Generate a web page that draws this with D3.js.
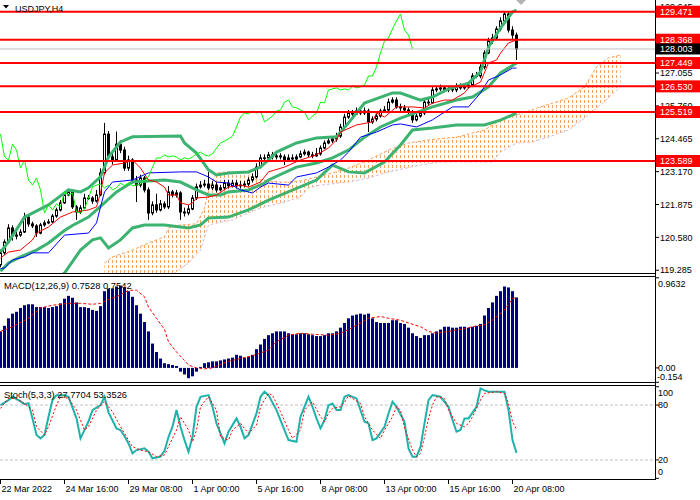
<!DOCTYPE html>
<html lang="en">
<head>
<meta charset="UTF-8">
<title>USDJPY,H4</title>
<script src="https://d3js.org/d3.v7.min.js"></script>
<style>
  body { margin: 0; background: #fff; }
  svg { display: block; }
  text { font-family: "Liberation Sans", Arial, sans-serif; font-size: 9px; fill: #000; }
</style>
</head>
<body>
<div id="chart"></div>
<script>
// ---- price bars (H4, 22 Mar 2022 00:00 .. 20 Apr 2022 12:00) ----
const firstOpen = 119.50;
const closes = [
  119.97,120.40,120.95,120.63,120.67,120.79,121.38,121.11,121.03,120.75,
  121.07,121.15,121.19,121.42,121.66,121.94,122.25,122.37,121.78,121.58,
  121.74,122.13,122.13,122.01,122.25,123.12,124.65,123.75,123.63,124.25,
  124.02,123.31,123.63,122.84,122.64,122.92,122.45,121.54,121.86,121.66,
  121.90,121.78,122.37,122.25,122.33,121.58,121.54,121.70,122.13,122.57,
  122.64,122.68,122.53,122.64,122.45,122.53,122.72,122.61,122.72,122.61,
  122.64,122.68,122.84,122.96,123.35,123.71,123.71,123.83,123.75,123.79,
  123.75,123.63,123.71,123.67,123.75,123.87,123.94,123.83,123.79,123.87,
  124.10,124.30,124.38,124.46,124.57,124.93,125.32,125.48,125.44,125.56,
  125.48,125.56,125.13,125.24,125.36,125.56,125.60,125.91,125.99,125.72,
  125.68,125.60,125.52,125.21,125.36,125.48,125.91,125.88,126.39,126.43,
  126.47,126.39,126.43,126.39,126.54,126.47,126.51,126.58,126.94,126.94,
  127.29,127.85,128.32,128.44,128.79,129.11,129.38,128.75,128.55,128.003
];
const highs = [
  120.10,120.50,121.10,121.05,120.85,120.90,121.55,121.45,121.20,121.10,
  121.15,121.25,121.30,121.50,121.75,122.05,122.40,122.50,122.45,121.85,
  121.85,122.30,122.25,122.20,122.45,123.30,125.09,124.77,123.95,124.75,
  124.40,124.15,123.80,123.70,123.00,123.05,123.00,122.55,122.00,122.30,
  122.05,122.00,122.60,122.45,122.45,122.40,121.75,121.85,122.25,122.70,
  122.80,122.85,123.16,122.80,122.75,122.65,122.85,122.85,122.85,122.85,
  122.80,122.80,122.95,123.10,123.50,123.85,123.85,123.95,123.95,123.90,
  123.90,123.85,123.85,123.85,123.85,124.00,124.05,124.00,123.95,124.10,
  124.20,124.40,124.50,124.55,124.70,125.05,125.45,125.60,125.60,125.70,
  125.65,125.70,125.65,125.35,125.45,125.65,125.75,126.05,126.10,126.10,
  125.85,125.80,125.70,125.60,125.45,125.60,126.00,126.05,126.50,126.55,
  126.60,126.55,126.55,126.50,126.65,126.65,126.60,126.70,127.05,127.10,
  127.40,127.95,128.45,128.60,128.90,129.25,129.47,129.45,128.90,128.65
];
const lows = [
  119.40,119.90,120.35,120.45,120.50,120.60,120.75,121.00,120.95,120.60,
  120.70,121.00,121.10,121.15,121.35,121.60,121.90,122.20,121.70,121.27,
  121.50,121.70,122.05,121.90,121.95,122.20,123.05,123.60,123.45,123.55,
  123.90,123.20,123.20,122.70,121.97,122.55,122.35,121.27,121.45,121.55,
  121.60,121.70,121.70,122.15,122.15,121.27,121.40,121.45,121.65,122.05,
  122.50,122.55,122.45,122.45,122.35,122.40,122.45,122.50,122.55,122.50,
  122.50,122.55,122.60,122.75,122.90,123.30,123.60,123.65,123.65,123.65,
  123.65,123.43,123.55,123.55,123.60,123.70,123.80,123.75,123.70,123.75,
  123.80,124.05,124.25,124.30,124.35,124.50,124.85,125.25,125.35,125.40,
  125.40,125.40,124.73,125.05,125.15,125.30,125.50,125.55,125.85,125.65,
  125.55,125.50,125.40,125.09,125.15,125.30,125.40,125.80,125.85,126.30,
  126.35,126.30,126.30,126.30,126.30,126.40,126.40,126.45,126.50,126.85,
  126.85,127.20,127.80,128.20,128.35,128.70,129.00,128.65,128.40,127.57
];

// ---- indicators: [bar index, value] ----
const bbUpper = [[0,120.00],[2,120.40],[6,121.38],[12,121.86],[17,122.45],[20,122.37],[22,122.53],[25,122.96],[27,123.75],[30,124.34],[33,124.54],[45,124.57],[46,124.30],[49,123.90],[52,123.24],[54,123.04],[57,123.12],[62,123.16],[65,123.35],[67,123.63],[69,123.94],[74,124.30],[79,124.50],[84,124.54],[87,125.09],[91,125.87],[98,126.27],[100,126.27],[105,125.99],[108,126.11],[112,126.43],[117,126.66],[120,127.10],[122,128.08],[125,128.83],[128,129.46],[129,129.54]];
const bbMiddle = [[0,119.25],[2,119.57],[5,119.81],[9,120.08],[12,120.36],[16,120.85],[18,121.05],[22,121.38],[25,121.80],[29,122.37],[33,122.76],[41,122.84],[45,122.76],[49,122.45],[52,122.25],[55,122.25],[57,122.37],[62,122.45],[66,122.72],[67,122.84],[74,123.35],[79,123.51],[83,123.71],[87,124.02],[91,124.53],[95,124.93],[100,125.28],[108,125.72],[114,125.99],[118,126.11],[122,126.51],[125,127.06],[129,127.45]];
const bbLower = [[0,117.90],[8,118.40],[16,119.17],[20,120.08],[23,120.48],[25,120.56],[27,120.16],[30,120.48],[33,120.95],[36,121.07],[41,121.07],[45,120.99],[47,120.95],[50,121.07],[52,121.34],[57,121.38],[62,121.66],[67,122.05],[79,122.84],[83,123.43],[87,123.16],[91,123.12],[96,123.55],[100,124.22],[103,124.81],[108,124.89],[114,125.01],[121,125.01],[125,125.20],[129,125.48]];
const tenkan = [[0,119.77],[2,120.00],[5,120.08],[8,120.48],[9,120.75],[12,120.99],[15,121.38],[18,121.58],[22,121.66],[24,121.78],[25,122.33],[26,123.12],[28,123.43],[31,123.51],[33,123.63],[35,123.31],[37,122.84],[39,122.76],[41,122.56],[42,122.25],[44,122.25],[45,121.94],[47,121.86],[48,121.94],[49,122.13],[52,122.17],[54,122.25],[57,122.56],[60,122.64],[62,122.56],[65,122.76],[67,123.16],[71,123.35],[75,123.63],[79,123.83],[82,124.10],[84,124.42],[85,124.73],[89,125.01],[93,125.13],[94,125.48],[96,125.32],[99,125.72],[103,125.72],[106,125.68],[108,125.87],[111,125.99],[113,125.99],[116,126.27],[117,126.47],[120,126.70],[122,127.45],[124,127.57],[125,127.84],[127,128.24],[129,128.36]];
const kijun = [[0,119.35],[1,119.37],[3,119.69],[6,119.81],[8,119.97],[12,119.97],[16,120.67],[22,120.75],[24,121.15],[25,121.78],[26,122.37],[28,122.76],[33,122.84],[37,123.12],[45,123.16],[49,123.16],[52,122.96],[54,122.76],[57,122.72],[60,122.45],[63,122.33],[65,122.56],[67,122.72],[72,122.64],[74,122.96],[79,123.12],[82,123.35],[85,123.63],[87,123.94],[90,124.53],[94,124.73],[98,125.01],[100,125.05],[104,124.93],[108,125.21],[113,125.72],[117,125.72],[120,126.27],[122,126.78],[125,126.98],[128,127.25],[129,127.25]];
const spanA = [[26,119.57],[28,119.81],[33,120.08],[37,120.36],[41,120.60],[42,120.95],[45,121.07],[49,121.11],[51,121.74],[52,122.45],[54,123.12],[57,123.16],[62,123.12],[63,122.90],[67,122.80],[71,122.75],[75,122.80],[79,122.96],[83,123.12],[87,123.31],[92,123.63],[97,124.02],[102,124.30],[107,124.42],[114,124.53],[121,124.81],[125,125.21],[129,125.40],[135,125.72],[142,126.07],[146,126.51],[149,127.29],[152,127.65],[155,127.77]];
const spanB = [[26,118.90],[42,119.00],[47,119.57],[50,120.08],[52,121.07],[58,121.27],[65,121.74],[71,121.97],[75,122.17],[77,122.53],[80,122.64],[87,122.76],[92,122.92],[97,123.16],[105,123.43],[110,123.55],[123,123.55],[125,123.94],[129,124.30],[133,124.34],[137,124.53],[142,124.81],[146,125.28],[150,125.80],[155,126.51]];
const chikouShift = 26;

// ---- MACD(12,26,9) ----
const macdHist = [
  0.39,0.45,0.53,0.58,0.60,0.64,0.67,0.68,0.68,0.65,
  0.65,0.65,0.64,0.65,0.66,0.69,0.74,0.77,0.75,0.70,
  0.65,0.65,0.64,0.62,0.61,0.66,0.82,0.85,0.85,0.87,
  0.88,0.86,0.82,0.76,0.67,0.58,0.49,0.39,0.26,0.17,
  0.10,0.05,0.04,0.03,0.02,-0.04,-0.07,-0.11,-0.09,-0.04,
  0.01,0.05,0.06,0.07,0.07,0.08,0.09,0.10,0.11,0.14,
  0.13,0.11,0.12,0.14,0.20,0.25,0.31,0.35,0.37,0.39,
  0.39,0.39,0.37,0.36,0.36,0.37,0.37,0.36,0.35,0.34,
  0.34,0.35,0.37,0.37,0.39,0.43,0.48,0.53,0.56,0.57,
  0.58,0.57,0.58,0.53,0.49,0.48,0.48,0.48,0.51,0.51,
  0.48,0.47,0.43,0.37,0.34,0.32,0.35,0.35,0.37,0.39,
  0.41,0.44,0.44,0.43,0.43,0.44,0.44,0.43,0.44,0.45,
  0.47,0.56,0.64,0.70,0.77,0.82,0.87,0.86,0.82,0.7528
];
const macdSignal = [[0,0.39],[3,0.44],[7,0.53],[10,0.64],[13,0.67],[17,0.69],[20,0.69],[23,0.68],[25,0.69],[27,0.73],[30,0.78],[32,0.83],[34,0.83],[36,0.76],[37,0.65],[39,0.53],[41,0.41],[42,0.28],[44,0.17],[46,0.08],[47,0.03],[49,0.00],[51,-0.01],[53,0.00],[57,0.07],[60,0.10],[63,0.13],[67,0.19],[69,0.28],[72,0.35],[75,0.37],[78,0.36],[82,0.35],[85,0.37],[87,0.41],[90,0.48],[92,0.53],[95,0.55],[97,0.53],[100,0.51],[102,0.48],[105,0.44],[107,0.39],[109,0.37],[112,0.39],[116,0.42],[118,0.44],[121,0.46],[123,0.51],[126,0.62],[128,0.74],[129,0.7542]];

// ---- Stochastic(5,3,3) ----
const stochK = [[0,79.9],[2,85.4],[3,89.0],[5,84],[6,81],[7,82],[8,65.4],[9,47.2],[10,43.6],[11,47.2],[12,67.2],[13,85.4],[14,90.8],[16,90.8],[17,89.0],[19,65.4],[20,43.6],[22,62],[23,74.5],[25,79.9],[26,89.0],[27,72],[29,54.5],[30,52.7],[31,46],[32,38],[33,27.2],[34,30.8],[36,32.7],[37,29.0],[38,21.8],[40,23.6],[41,30],[42,45],[43,56.3],[44,74.5],[45,56.3],[46,41.7],[47,29.0],[48,45.4],[49,78.1],[50,89.0],[52,90.8],[53,78.1],[54,60],[55,49],[56,38.1],[57,50.8],[59,65.4],[60,56.3],[61,43.6],[62,47.2],[64,70.8],[65,89.0],[66,94.5],[67,90.8],[69,74.5],[71,52.7],[72,41.7],[74,39.9],[75,67.2],[77,89.0],[78,78.1],[79,65.4],[80,54.5],[81,63.6],[82,79.9],[83,81.7],[84,74.5],[85,74.5],[86,89.0],[87,90.8],[89,87.2],[91,61.7],[92,59.9],[93,41.7],[94,43.6],[96,56.3],[97,70.8],[98,83.6],[99,78.1],[101,61.7],[102,32.7],[103,23.6],[104,23.6],[105,34.5],[106,59.9],[107,85.4],[108,90.8],[110,89.0],[112,78.1],[113,63.6],[114,50.8],[115,52.7],[116,65.4],[117,65.4],[119,78.1],[120,98.1],[121,96],[122,94.5],[126,94.5],[127,74.5],[128,41.7],[129,27.7704]];
const stochD = [[0,76.3],[2,87.2],[4,87.2],[6,81.7],[8,74.5],[9,56.3],[11,47.2],[12,56.3],[14,79.9],[15,89.0],[17,87.2],[19,74.5],[21,52.7],[22,56.3],[24,74.5],[26,83.6],[28,72.7],[30,56.3],[31,49.0],[33,34.5],[35,30.8],[37,29.0],[39,23.6],[41,25.4],[42,34.5],[44,52.7],[45,67.2],[47,52.7],[48,39.9],[49,52.7],[50,78.1],[52,89.0],[54,74.5],[55,45.4],[57,41.7],[58,52.7],[60,59.9],[62,49.0],[64,58.1],[65,78.1],[67,92.7],[68,90.8],[70,72.7],[72,52.7],[73,43.6],[75,52.7],[76,74.5],[78,83.6],[80,67.2],[81,61.7],[82,70.8],[83,76.3],[85,78.1],[86,83],[87,90],[90,81.7],[91,67.2],[93,52.7],[95,43.6],[96,52.7],[98,67.2],[99,78.1],[100,74.5],[101,55],[103,30.8],[104,23.6],[105,27.2],[106,45],[107,65],[108,80],[109,89.0],[111,87.2],[112,74.5],[114,59.9],[116,56.3],[117,59.9],[118,67.2],[120,85.4],[121,92.7],[124,94.5],[126,92.7],[127,81.7],[128,61.7],[129,53.3526]];

// ---- levels, axis labels ----
const levels = [129.471, 128.368, 127.449, 126.530, 125.519, 123.589];
const lastPrice = 128.003;
const priceTicks = [129.645, 127.055, 125.760, 124.465, 123.170, 121.875, 120.580, 119.285];
const dateTicks = [0, 16, 32, 48, 64, 80, 96, 112, 128];
const dateLabels = ["22 Mar 2022", "24 Mar 16:00", "29 Mar 08:00", "1 Apr 00:00", "5 Apr 16:00",
                    "8 Apr 08:00", "13 Apr 00:00", "15 Apr 16:00", "20 Apr 08:00"];

// ---- layout ----
const W = 700, H = 500, axisX = 655;
const x = d3.scaleLinear().domain([0, 129]).range([0.5, 516.5]);
const yP = d3.scaleLinear().domain([119.176, 129.933]).range([273, 0]);
const yM = d3.scaleLinear().domain([-0.154, 0.9632]).range([382.3, 277.8]);
const yS = d3.scaleLinear().domain([0, 100]).range([478.3, 386.7]);

const svg = d3.select("#chart").append("svg").attr("width", W).attr("height", H);
svg.append("rect").attr("width", W).attr("height", H).attr("fill", "#fff");
const defs = svg.append("defs");
defs.append("clipPath").attr("id", "clipMain").append("rect")
    .attr("x", 0).attr("y", 0).attr("width", axisX).attr("height", 273);
defs.append("clipPath").attr("id", "clipMacd").append("rect")
    .attr("x", 0).attr("y", 277).attr("width", axisX).attr("height", 105);
defs.append("clipPath").attr("id", "clipStoch").append("rect")
    .attr("x", 0).attr("y", 386).attr("width", axisX).attr("height", 93);
// kumo hatch: short vertical dashes, one column per bar
const pat = defs.append("pattern").attr("id", "kumo")
    .attr("patternUnits", "userSpaceOnUse").attr("width", 4).attr("height", 5);
pat.append("rect").attr("x", 0).attr("y", 0).attr("width", 1).attr("height", 3).attr("fill", "#F4A460");

const main = svg.append("g").attr("clip-path", "url(#clipMain)");
const lineP = d3.line().x(d => x(d[0])).y(d => yP(d[1]));

// Ichimoku cloud
const kumoPts = spanA.concat(spanB.slice().reverse());
main.append("path").attr("d", lineP(kumoPts) + "Z").attr("fill", "url(#kumo)");
main.append("path").attr("d", lineP(spanA)).attr("fill", "none")
    .attr("stroke", "#F4A460").attr("stroke-dasharray", "3,2");
main.append("path").attr("d", lineP(spanB)).attr("fill", "none")
    .attr("stroke", "#D8BFD8").attr("stroke-dasharray", "3,2");

// candles
const opens = closes.map((c, i) => i === 0 ? firstOpen : closes[i - 1]);
const candle = main.append("g").selectAll("g").data(closes).join("g");
candle.append("line")
    .attr("x1", (d, i) => x(i)).attr("x2", (d, i) => x(i))
    .attr("y1", (d, i) => yP(highs[i])).attr("y2", (d, i) => yP(lows[i]))
    .attr("stroke", "#000");
candle.append("rect")
    .attr("x", (d, i) => x(i) - 1)
    .attr("y", (d, i) => yP(Math.max(opens[i], d)))
    .attr("width", 2)
    .attr("height", (d, i) => Math.max(0.6, yP(Math.min(opens[i], d)) - yP(Math.max(opens[i], d))))
    .attr("fill", (d, i) => d >= opens[i] ? "#fff" : "#000")
    .attr("stroke", "#000");

// bands and ichimoku lines
[bbUpper, bbMiddle, bbLower].forEach(s => {
    main.append("path").attr("d", lineP(s)).attr("fill", "none")
        .attr("stroke", "#3CB371").attr("stroke-width", 3);
});
main.append("path").attr("d", lineP(tenkan)).attr("fill", "none").attr("stroke", "#FF0000");
main.append("path").attr("d", lineP(kijun)).attr("fill", "none").attr("stroke", "#0000FF");
const chikou = closes.slice(chikouShift).map((c, k) => [k, c]);
main.append("path").attr("d", lineP(chikou)).attr("fill", "none").attr("stroke", "#00FF00");

// horizontal levels
main.append("line").attr("x1", 0).attr("x2", axisX)
    .attr("y1", yP(lastPrice)).attr("y2", yP(lastPrice)).attr("stroke", "#C0C0C0");
main.selectAll(".lvl").data(levels).join("line").attr("class", "lvl")
    .attr("x1", 0).attr("x2", axisX)
    .attr("y1", d => yP(d)).attr("y2", d => yP(d))
    .attr("stroke", "#FF0000").attr("stroke-width", 2);

// MACD panel
const macd = svg.append("g").attr("clip-path", "url(#clipMacd)");
macd.selectAll("rect").data(macdHist).join("rect")
    .attr("x", (d, i) => x(i) - 1.5).attr("width", 3)
    .attr("y", d => Math.min(yM(d), yM(0)))
    .attr("height", d => Math.abs(yM(d) - yM(0)))
    .attr("fill", "#000080");
macd.append("path")
    .attr("d", d3.line().x(d => x(d[0])).y(d => yM(d[1]))(macdSignal))
    .attr("fill", "none").attr("stroke", "#FF0000").attr("stroke-dasharray", "3,2");

// Stochastic panel
const stoch = svg.append("g").attr("clip-path", "url(#clipStoch)");
[80, 20].forEach(v => {
    stoch.append("line").attr("x1", 0).attr("x2", axisX).attr("y1", yS(v)).attr("y2", yS(v))
        .attr("stroke", "#C0C0C0").attr("stroke-dasharray", "3,2");
});
const lineS = d3.line().x(d => x(d[0])).y(d => yS(d[1]));
stoch.append("path").attr("d", lineS(stochK)).attr("fill", "none")
    .attr("stroke", "#20B2AA").attr("stroke-width", 2);
stoch.append("path").attr("d", lineS(stochD)).attr("fill", "none")
    .attr("stroke", "#FF0000").attr("stroke-dasharray", "2,2");

// frames
const frame = svg.append("g").attr("stroke", "#000").attr("shape-rendering", "crispEdges");
[273.5, 276.5, 382.5, 385.5, 479.5].forEach(yy => {
    frame.append("line").attr("x1", 0).attr("x2", axisX + 1).attr("y1", yy).attr("y2", yy);
});
frame.append("line").attr("x1", axisX + 0.5).attr("x2", axisX + 0.5).attr("y1", 0).attr("y2", 480);

// right axis: price
const ax = svg.append("g");
priceTicks.forEach(p => {
    ax.append("line").attr("x1", axisX).attr("x2", axisX + 4).attr("y1", yP(p)).attr("y2", yP(p)).attr("stroke", "#000");
    ax.append("text").attr("x", 660).attr("y", yP(p)).attr("dy", "0.35em").text(p.toFixed(3));
});
levels.forEach(p => {
    ax.append("rect").attr("x", 656).attr("y", yP(p) - 6).attr("width", 44).attr("height", 12).attr("fill", "#FF0000");
    ax.append("text").attr("x", 660).attr("y", yP(p)).attr("dy", "0.35em").style("fill", "#fff").text(p.toFixed(3));
});
ax.append("rect").attr("x", 656).attr("y", yP(lastPrice) - 5.5).attr("width", 44).attr("height", 11).attr("fill", "#000");
ax.append("text").attr("x", 660).attr("y", yP(lastPrice)).attr("dy", "0.35em").style("fill", "#fff").text(lastPrice.toFixed(3));

// right axis: MACD and Stoch
[[0.9632, "0.9632", 6], [0, "0.00", 0], [-0.154, "-0.154", -5.5]].forEach(([v, t, off]) => {
    ax.append("line").attr("x1", axisX).attr("x2", axisX + 4).attr("y1", yM(v)).attr("y2", yM(v)).attr("stroke", "#000");
    ax.append("text").attr("x", t.startsWith("-") ? 657 : 658).attr("y", yM(v) + off).attr("dy", "0.35em").text(t);
});
[[100, 6], [80, 0], [20, 0], [0, -6.5]].forEach(([v, off]) => {
    ax.append("line").attr("x1", axisX).attr("x2", axisX + 4).attr("y1", yS(v)).attr("y2", yS(v)).attr("stroke", "#000");
    ax.append("text").attr("x", 658).attr("y", yS(v) + off).attr("dy", "0.35em").text(v);
});

// time axis
dateTicks.forEach((b, k) => {
    ax.append("line").attr("x1", x(b)).attr("x2", x(b)).attr("y1", 480).attr("y2", 484).attr("stroke", "#000");
    ax.append("text").attr("x", x(b) + 1).attr("y", 491.5).text(dateLabels[k]);
});

// titles
svg.append("path").attr("d", "M3,5 L9,5 L6,8.5 Z").attr("fill", "#000");
svg.append("text").attr("x", 15).attr("y", 12).text("USDJPY,H4");
svg.append("text").attr("x", 4).attr("y", 288.5).style("font-size", "9.4px")
    .text("MACD(12,26,9) 0.7528 0.7542");
svg.append("text").attr("x", 4).attr("y", 398).style("font-size", "9.3px")
    .text("Stoch(5,3,3) 27.7704 53.3526");
// chart shift marker
svg.append("path").attr("d", "M516,0 L526,0 L521,5 Z").attr("fill", "#B4B4B4");
</script>
</body>
</html>
